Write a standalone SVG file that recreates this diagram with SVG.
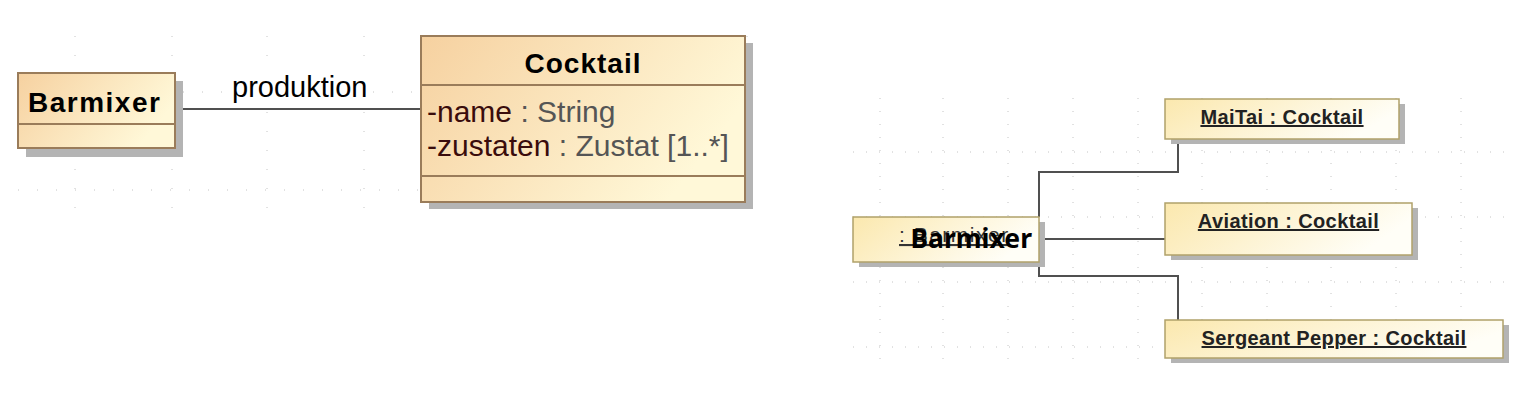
<svg xmlns="http://www.w3.org/2000/svg" width="1522" height="408" viewBox="0 0 1522 408">
<defs>
<linearGradient id="gClass" x1="0" y1="0" x2="1" y2="0.4">
<stop offset="0" stop-color="#f6d1a0"/>
<stop offset="1" stop-color="#fff8d8"/>
</linearGradient>
<linearGradient id="gObj" x1="0" y1="0" x2="1" y2="0.3">
<stop offset="0" stop-color="#fbe8ae"/>
<stop offset="1" stop-color="#fffef7"/>
</linearGradient>
<style>
.grid{stroke:#c4c4c4;stroke-width:1;stroke-dasharray:1 18;fill:none}
.gridr{stroke:#c4c4c4;stroke-width:1;stroke-dasharray:1 12;fill:none}
.shadow{fill:#b4b4b4}
.cls{fill:url(#gClass);stroke:#9a7c5a;stroke-width:2}
.div{stroke:#9a7c5a;stroke-width:2}
.obj{fill:url(#gObj);stroke:#b0a16a;stroke-width:1.5}
.conn{stroke:#505050;stroke-width:2;fill:none}
.title{font-family:"Liberation Sans",Arial,sans-serif;font-weight:bold;font-size:28px;fill:#000}
.attr{font-family:"Liberation Sans",Arial,sans-serif;font-size:30px;fill:#555}
.attrn{fill:#3a0c0c}
.lbl{font-family:"Liberation Sans",Arial,sans-serif;font-size:29px;fill:#000}
.olbl{font-family:"Liberation Sans",Arial,sans-serif;font-weight:bold;font-size:20px;letter-spacing:0.4px;fill:#222;text-decoration:underline;text-anchor:middle}
</style>
</defs>
<rect width="1522" height="408" fill="#fff"/>
<g id="grid">
<path class="grid" d="M75 36V212M172 36V212M267 36V212M364 36V212M458 36V212M555 36V212M650 36V212M747 36V212M18 190H420M183 92H420"/>
<path class="gridr" d="M880 98V360M943 98V360M1008 98V360M1073 98V360M1138 98V360M1202 98V360M1267 98V360M1331 98V360M1396 98V360M1461 98V360M853 152H1505M853 217H1505M853 282H1505M853 347H1505"/>
</g>
<g id="connectors">
<line class="conn" x1="175" y1="109" x2="421" y2="109"/>
<rect x="228" y="72" width="144" height="32" fill="#fff"/>
<text class="lbl" x="232" y="97">produktion</text>
<polyline class="conn" points="1039,217 1039,172 1178,172 1178,139"/>
<line class="conn" x1="1039" y1="239" x2="1165" y2="239"/>
<polyline class="conn" points="1039,262 1039,276 1178,276 1178,320"/>
</g>
<g id="class-barmixer">
<rect class="shadow" x="26" y="81" width="157" height="76"/>
<rect class="cls" x="18" y="73" width="157" height="75"/>
<line class="div" x1="18" y1="124" x2="175" y2="124"/>
<text class="title" x="28" y="112" letter-spacing="1.5">Barmixer</text>
</g>
<g id="class-cocktail">
<rect class="shadow" x="429" y="43" width="324" height="166"/>
<rect class="cls" x="421" y="36" width="324" height="166"/>
<line class="div" x1="421" y1="85" x2="745" y2="85"/>
<line class="div" x1="421" y1="176" x2="745" y2="176"/>
<text class="title" x="583" y="73" text-anchor="middle" letter-spacing="1">Cocktail</text>
<text class="attr" x="427" y="122"><tspan class="attrn">-name</tspan> : String</text>
<text class="attr" x="427" y="156"><tspan class="attrn">-zustaten</tspan> : Zustat [1..*]</text>
</g>
<g id="obj-barmixer">
<rect class="shadow" x="859" y="222" width="186" height="45"/>
<rect class="obj" x="853" y="217" width="186" height="45"/>
<text x="899" y="242" font-family="Liberation Sans, Arial, sans-serif" font-size="21" letter-spacing="1.5" fill="#333" text-decoration="underline">: Barmixer</text>
<text x="1032" y="248" font-family="Noto Sans, sans-serif" font-weight="bold" font-size="26.5" fill="#000" text-anchor="end">Barmixer</text>
</g>
<g id="obj-maitai">
<rect class="shadow" x="1171" y="104" width="234" height="40"/>
<rect class="obj" x="1165" y="99" width="234" height="40"/>
<text class="olbl" x="1282" y="124">MaiTai : Cocktail</text>
</g>
<g id="obj-aviation">
<rect class="shadow" x="1171" y="208" width="247" height="52"/>
<rect class="obj" x="1165" y="203" width="247" height="52"/>
<text class="olbl" x="1288.5" y="228">Aviation : Cocktail</text>
</g>
<g id="obj-sergeant">
<rect class="shadow" x="1171" y="325" width="338" height="38"/>
<rect class="obj" x="1165" y="320" width="338" height="38"/>
<text class="olbl" x="1334" y="345">Sergeant Pepper : Cocktail</text>
</g>
</svg>
